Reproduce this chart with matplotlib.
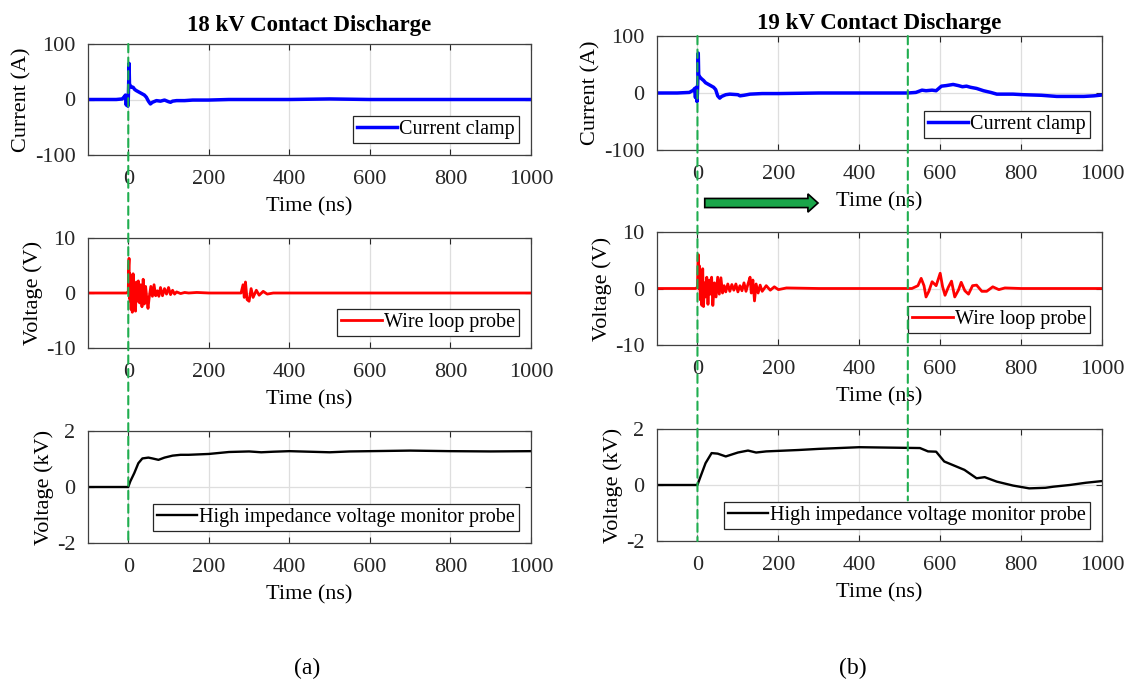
import numpy as np
import matplotlib.pyplot as plt
from matplotlib.patches import ConnectionPatch, FancyArrow

plt.rcParams['font.family'] = ['Liberation Serif', 'DejaVu Serif']
plt.rcParams['axes.unicode_minus'] = False

# (time ns, value) pairs
cur18 = [(-100, 0), (-60, 0), (-30, 0), (-15, 1), (-10, 5), (-7, 8), (-5, -10), (-3, 6), (-1, -12),
         (0, 0), (1, 30), (2, 65), (3, 28), (5, 25), (8, 22), (12, 22), (16, 18), (20, 16), (25, 14),
         (30, 12), (35, 10), (40, 8), (45, 4), (50, -3), (55, -8), (60, -5), (70, -2), (80, -3),
         (90, -1), (100, -4), (105, -5), (110, -3), (120, -2), (140, -2), (160, -1), (200, -1),
         (250, 0), (300, 0), (350, 0), (400, 0), (500, 1), (600, 0), (700, 0), (800, 0), (900, 0),
         (1000, 0)]

cur19 = [(-100, 0), (-50, 0), (-20, 1), (-15, 3), (-10, 5), (-7, 8), (-5, -8), (-3, 10), (-1, -15),
         (0, 2), (1, 25), (2, 70), (3, 32), (6, 28), (10, 25), (15, 22), (20, 18), (25, 16), (30, 14),
         (35, 12), (40, 10), (45, 6), (50, -5), (55, -9), (60, -6), (70, -3), (80, -2), (100, -3),
         (105, -5), (115, -4), (130, -2), (160, -1), (200, -1), (300, 0), (400, 0), (500, 0),
         (520, 0), (540, 1), (555, 5), (565, 4), (580, 5), (590, 4), (603, 12), (615, 13), (632, 15),
         (645, 13), (655, 11), (665, 12), (675, 10), (690, 8), (707, 4), (725, 1), (740, -2),
         (780, -2), (806, -3), (850, -4), (888, -6), (920, -6), (955, -6), (980, -5), (1000, -3.5)]

wire18 = [(-100, 0), (-5, 0), (0, 0.2), (1, 5), (2, 6.3), (3, -1), (4, 3.5), (5, -1.5), (6, 3.0),
          (7, -3.0), (8, 2.0), (10, -3.5), (12, 3.5), (14, -1.5), (16, 1.5), (18, -3.3), (20, 2.0),
          (22, -1.5), (25, 2.2), (28, -1.8), (31, 1.5), (34, -2.5), (37, 2.5), (40, -2.0), (43, 1.2),
          (46, -1.0), (49, -2.8), (52, -0.8), (56, 1.2), (60, -0.6), (64, 1.5), (68, -0.5), (72, 0.4),
          (76, -0.6), (80, 1.0), (85, -0.5), (90, 0.8), (95, -0.2), (100, 1.0), (105, -0.3),
          (110, 0.5), (115, -0.2), (120, 0.2), (130, -0.1), (140, 0.1), (150, 0), (170, 0.1),
          (200, 0), (250, 0), (280, 0), (285, 1.5), (288, -0.8), (291, 2.0), (295, -1.2),
          (300, -1.5), (305, 0.8), (310, -0.8), (318, 0.5), (325, -0.4), (335, 0.3), (345, -0.2),
          (360, 0), (400, 0), (500, 0), (600, 0), (700, 0), (800, 0), (900, 0), (1000, 0)]

wire19 = [(-100, 0), (-5, 0), (0, 0.2), (1, 4), (2, 6), (3, 0), (5, 4), (7, -2), (9, 2.5), (11, -3.0),
          (13, 3.5), (15, -3.2), (17, 1.0), (20, -1.5), (23, 2.0), (26, -2.8), (29, 1.5), (32, -1.0),
          (35, 2.0), (38, -3.0), (42, 1.0), (46, -1.5), (50, 2.0), (54, -1.0), (58, 1.9), (62, -0.8),
          (66, 0.5), (70, -0.6), (75, 0.8), (80, -0.5), (85, 0.7), (90, -0.3), (95, 0.8), (100, -0.6),
          (105, 0.5), (110, -0.4), (115, 1.0), (120, -0.5), (125, 0.8), (130, 2.0), (133, -0.8),
          (137, 1.5), (141, -2.2), (145, 0.8), (150, -0.8), (155, 0.6), (160, -0.5), (170, 0.5),
          (180, -0.3), (190, 0.3), (200, -0.2), (220, 0.1), (300, 0), (400, 0), (500, 0), (530, 0),
          (545, 0.5), (553, 1.8), (560, 0.5), (565, -1.5), (572, -0.5), (580, 1.2), (590, 0.5),
          (600, 2.7), (606, 0.3), (612, -1.2), (620, 0.2), (628, 1.3), (636, -1.5), (645, -0.3),
          (652, 1.1), (661, -0.4), (670, -1.0), (680, 0.5), (690, 0.6), (703, -0.5), (715, -0.5),
          (730, 0.3), (745, -0.2), (760, 0.1), (800, 0), (900, 0), (1000, 0)]

hv18 = [(-100, 0), (-50, 0), (0, 0), (5, 0.2), (15, 0.5), (25, 0.85), (35, 1.02), (50, 1.05),
        (60, 1.02), (75, 0.97), (90, 1.05), (110, 1.12), (130, 1.15), (150, 1.15), (200, 1.18),
        (250, 1.25), (300, 1.27), (330, 1.24), (360, 1.26), (400, 1.28), (450, 1.26), (500, 1.24),
        (550, 1.27), (600, 1.28), (700, 1.30), (800, 1.28), (900, 1.27), (1000, 1.28)]

hv19 = [(-100, 0), (-50, 0), (0, 0), (5, 0.2), (20, 0.78), (35, 1.14), (50, 1.12), (70, 1.02),
        (100, 1.16), (125, 1.23), (145, 1.16), (170, 1.2), (250, 1.25), (300, 1.29), (400, 1.35),
        (500, 1.33), (550, 1.32), (570, 1.2), (590, 1.19), (610, 0.84), (630, 0.72), (660, 0.54),
        (690, 0.24), (710, 0.28), (740, 0.12), (780, -0.02), (820, -0.12), (860, -0.1),
        (880, -0.06), (920, 0), (960, 0.08), (1000, 0.14)]

titles = ["18 kV Contact Discharge", "19 kV Contact Discharge"]
panel_labels = ["(a)", "(b)"]
row_ylabels = ["Current (A)", "Voltage (V)", "Voltage (kV)"]
row_legends = ["Current clamp", "Wire loop probe", "High impedance voltage monitor probe"]
row_ylims = [(-100, 100), (-10, 10), (-2, 2)]
row_colors = ["#0000ff", "#ff0000", "#000000"]
row_widths = [2.5, 2.0, 1.7]
xticks = [0, 200, 400, 600, 800, 1000]
dash_times = [[0], [0, 520]]
dash_end_19 = -0.55

W, H = 1130, 690
fig = plt.figure(figsize=(W / 100, H / 100), dpi=100)

# axes boxes in pixels: (x0, x1) and (y_top, y_bottom)
col_x = [(88, 531), (657, 1102)]
row_y = [[(44, 155), (238, 348), (431, 543)],
         [(36, 150), (232, 345), (429, 541)]]
label_x = [307, 853]
title_pad = [9, 5]

series = [[cur18, wire18, hv18], [cur19, wire19, hv19]]
GREEN = "#1fae4f"
FS = 16

axes = []
for c in range(2):
    col_axes = []
    for r in range(3):
        x0, x1 = col_x[c]
        yt, yb = row_y[c][r]
        ax = fig.add_axes([x0 / W, 1 - yb / H, (x1 - x0) / W, (yb - yt) / H])
        t, v = np.array(series[c][r]).T
        ax.plot(t, v, color=row_colors[r], lw=row_widths[r], label=row_legends[r])
        ax.set_xlim(-100, 1000)
        ax.set_ylim(*row_ylims[r])
        ax.set_xticks(xticks)
        ax.set_yticks([row_ylims[r][0], 0, row_ylims[r][1]])
        ax.grid(True, color="#dedede", lw=0.9)
        ax.set_axisbelow(True)
        ax.tick_params(direction="in", top=True, right=True, labelsize=FS,
                       colors="#262626", length=4)
        ax.tick_params(axis="x", pad=11)
        ax.tick_params(axis="y", pad=9)
        for s in ax.spines.values():
            s.set_color("#404040")
            s.set_linewidth(0.9)
        ax.set_xlabel("Time (ns)", fontsize=FS, labelpad=6)
        ax.set_ylabel(row_ylabels[r], fontsize=FS, labelpad=2)
        leg = ax.legend(loc="lower right", fontsize=14.5, fancybox=False, framealpha=1,
                        edgecolor="#262626", handlelength=2.0, handletextpad=0.1,
                        borderpad=0.2, borderaxespad=0.6)
        leg.get_frame().set_linewidth(0.9)
        if r == 0:
            ax.set_title(titles[c], fontsize=16.5, fontweight="bold", pad=title_pad[c])
        col_axes.append(ax)
    axes.append(col_axes)

    for k, td in enumerate(dash_times[c]):
        y_end = row_ylims[2][0] if k == 0 else dash_end_19
        con = ConnectionPatch(xyA=(td, row_ylims[0][1]), coordsA=col_axes[0].transData,
                              xyB=(td, y_end), coordsB=col_axes[2].transData,
                              color=GREEN, lw=1.5, linestyle=(0, (4, 2.5)))
        fig.add_artist(con)

    fig.text(label_x[c] / W, 1 - 668 / H, panel_labels[c], fontsize=17,
             ha="center", va="center")

# green arrow below the 19 kV current panel
arrow = FancyArrow(18, -193, 255, 0, width=16, head_width=32, head_length=25,
                   length_includes_head=False, fc="#1aa64a", ec="black", lw=1.2,
                   transform=axes[1][0].transData, clip_on=False)
axes[1][0].add_artist(arrow)

fig.savefig("out.png", dpi=100)
